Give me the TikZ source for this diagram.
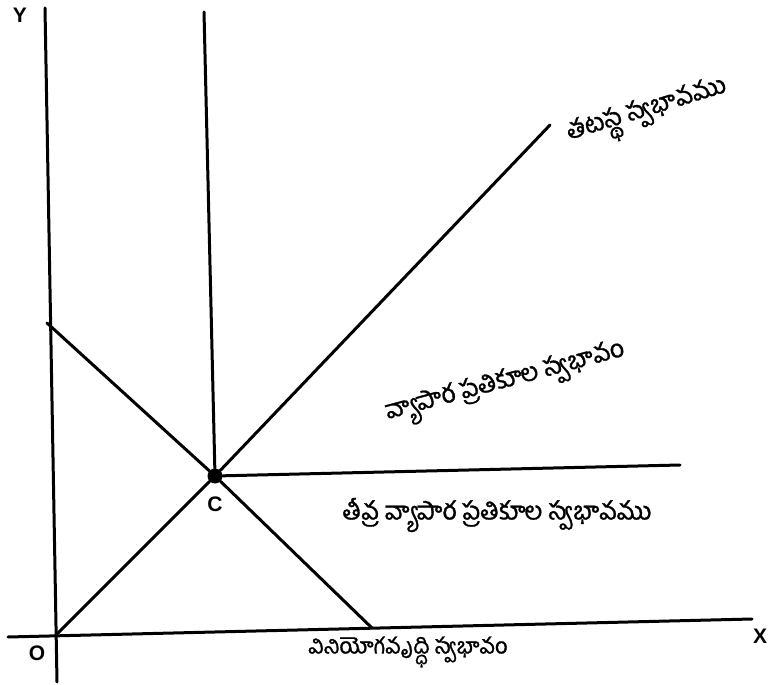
\documentclass[tikz,border=0pt]{standalone}
\usepackage{fontspec}
\setmainfont{Liberation Sans}
\newfontfamily\telugufont[Script=Telugu,FakeBold=1.2]{Hind Guntur}
\usetikzlibrary{positioning}

\begin{document}
\begin{tikzpicture}[x=1pt,y=-1pt,line/.style={line width=3pt,line cap=round},tel/.style={font=\telugufont\fontsize{25}{25}\selectfont,inner sep=0pt},lat/.style={font=\bfseries\fontsize{21}{21}\selectfont,inner sep=0pt},pt/.style={circle,fill,inner sep=0pt,minimum size=15pt}]
\useasboundingbox (0,0) rectangle (772,685);
% axes and end points
\coordinate (ytop) at (45,8); \coordinate (ybot) at (57,682);
\coordinate (xleft) at (8,637); \coordinate (xright) at (752,619);
\coordinate (o) at (56,635);
\coordinate (vtop) at (204,12);
\coordinate (ne) at (550,125);
\coordinate (hend) at (680,465);
\coordinate (dtop) at (47,323); \coordinate (dbot) at (372,628);
\node[pt] (c) at (215,476) {};
% labels
\node[lat] (ylab) at (20,15) {Y};
\node[lat] (xlab) at (760,636) {X};
\node[lat] (olab) at (37,653) {O};
\node[lat,below=28pt of c.center,anchor=center] (clab) {C};
\node[tel,rotate=17] (neutral) at (648,114) {తటస్థ స్వభావము};
\node[tel,rotate=15] (adverse) at (506,384) {వ్యాపార ప్రతికూల స్వభావం};
\node[tel] (severe) at (497,515) {తీవ్ర వ్యాపార ప్రతికూల స్వభావము};
\node[tel,font=\telugufont\fontsize{22}{22}\selectfont] (growth) at (408,652) {వినియోగవృద్ధి స్వభావం};
% lines
\foreach \u/\v in {ytop/ybot,xleft/xright,vtop/c,o/c,c/ne,c/hend,dtop/c,c/dbot}{\draw[line] (\u)--(\v);}
\end{tikzpicture}
\end{document}
